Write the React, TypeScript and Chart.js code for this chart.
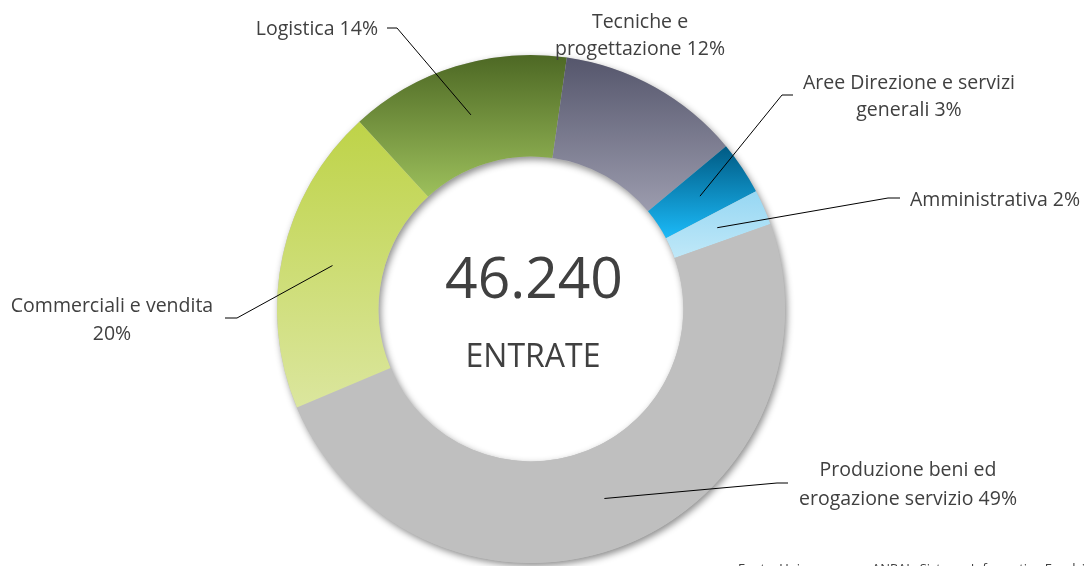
import React, { useEffect, useRef } from "react";
import { Chart, registerables } from "chart.js";

Chart.register(...registerables);

const categories: string[] = [
  "Logistica",
  "Tecniche e progettazione",
  "Aree Direzione e servizi generali",
  "Amministrativa",
  "Produzione beni ed erogazione servizio",
  "Commerciali e vendita",
];
const values: number[] = [6500, 5400, 1570, 1040, 22700, 9030];
const percentLabels: string[] = ["14%", "12%", "3%", "2%", "49%", "20%"];
const labelLines: string[][] = [
  ["Logistica 14%"],
  ["Tecniche e", "progettazione 12%"],
  ["Aree Direzione e servizi", "generali 3%"],
  ["Amministrativa 2%"],
  ["Produzione beni ed", "erogazione servizio 49%"],
  ["Commerciali e vendita", "20%"],
];
const totalLabel = "46.240";
const centerLabel = "ENTRATE";
const sourceLabel = "Fonte: Unioncamere - ANPAL, Sistema Informativo Excelsior";

const gradientStops: string[][] = [
  ["#4d6824", "#9dc05c"],
  ["#55566c", "#9c9cae"],
  ["#005a83", "#1bbaf8"],
  ["#97d7f3", "#bfe8f8"],
  ["#bfbfbf", "#bfbfbf"],
  ["#bed348", "#dbe69e"],
];

const ROTATION = -42.5;
const CUTOUT = 0.6;
const FONT = "'Open Sans', Lato, sans-serif";
const TEXT_COLOR = "#404040";

type Layout = { x: number; ys: number[]; align: CanvasTextAlign; line?: number[][] };
const layouts: Layout[] = [
  { x: 378, ys: [29], align: "right", line: [[387, 28], [397, 28]] },
  { x: 640, ys: [22, 49], align: "center" },
  { x: 909, ys: [83, 110], align: "center", line: [[793, 95], [782, 95]] },
  { x: 910, ys: [200], align: "left", line: [[900, 198], [888, 198]] },
  { x: 908, ys: [470, 499], align: "center", line: [[788, 483], [777, 483]] },
  { x: 112, ys: [306, 334], align: "center", line: [[225, 318], [237, 318]] },
];

function segmentGradient(ctx: any) {
  const chart = ctx.chart;
  const area = chart.chartArea;
  const i = ctx.dataIndex;
  const stops = gradientStops[i];
  if (!area) return stops[0];
  const cx = (area.left + area.right) / 2;
  const cy = (area.top + area.bottom) / 2;
  const R = Math.min(area.right - area.left, area.bottom - area.top) / 2;
  const r = R * CUTOUT;
  const total = values.reduce((a, b) => a + b, 0);
  let before = 0;
  for (let k = 0; k < i; k++) before += values[k];
  const a0 = ((ROTATION - 90) * Math.PI) / 180 + (before / total) * Math.PI * 2;
  const a1 = a0 + (values[i] / total) * Math.PI * 2;
  let ymin = Infinity;
  let ymax = -Infinity;
  const n = 60;
  for (let s = 0; s <= n; s++) {
    const a = a0 + ((a1 - a0) * s) / n;
    for (const rad of [R, r]) {
      const y = cy + rad * Math.sin(a);
      ymin = Math.min(ymin, y);
      ymax = Math.max(ymax, y);
    }
  }
  const g = chart.ctx.createLinearGradient(0, ymin, 0, ymax);
  g.addColorStop(0, stops[0]);
  g.addColorStop(1, stops[1]);
  return g;
}

const shadowPlugin = {
  id: "ringShadow",
  beforeDatasetsDraw(chart: any) {
    const meta = chart.getDatasetMeta(0);
    const arc = meta.data[0];
    if (!arc) return;
    const { x, y, outerRadius, innerRadius } = arc;
    const c = chart.ctx;
    c.save();
    c.shadowColor = "rgba(0,0,0,0.45)";
    c.shadowBlur = 7;
    c.shadowOffsetX = 2;
    c.shadowOffsetY = 3;
    c.fillStyle = "#bfbfbf";
    c.beginPath();
    c.arc(x, y, outerRadius, 0, Math.PI * 2, false);
    c.arc(x, y, innerRadius, 0, Math.PI * 2, true);
    c.closePath();
    c.fill("evenodd");
    c.restore();
  },
};

const labelPlugin = {
  id: "outerLabels",
  afterDatasetsDraw(chart: any) {
    const meta = chart.getDatasetMeta(0);
    const c = chart.ctx;
    c.save();
    meta.data.forEach((arc: any, i: number) => {
      const lay = layouts[i];
      const mid = (arc.startAngle + arc.endAngle) / 2;
      const rr = (arc.innerRadius + arc.outerRadius) / 2;
      const ax = arc.x + rr * Math.cos(mid);
      const ay = arc.y + rr * Math.sin(mid);
      if (lay.line) {
        c.strokeStyle = "#000000";
        c.lineWidth = 1;
        c.beginPath();
        c.moveTo(lay.line[0][0], lay.line[0][1]);
        for (let k = 1; k < lay.line.length; k++) c.lineTo(lay.line[k][0], lay.line[k][1]);
        c.lineTo(ax, ay);
        c.stroke();
      }
      c.fillStyle = TEXT_COLOR;
      c.font = `19.5px ${FONT}`;
      c.textAlign = lay.align;
      c.textBaseline = "middle";
      labelLines[i].forEach((t, k) => c.fillText(t, lay.x, lay.ys[k]));
    });
    const a0 = meta.data[0];
    if (a0) {
      c.textAlign = "center";
      c.textBaseline = "alphabetic";
      c.fillStyle = TEXT_COLOR;
      c.font = `57px ${FONT}`;
      c.fillText(totalLabel, a0.x + 3, 298);
      c.font = `32px ${FONT}`;
      c.fillText(centerLabel, a0.x + 2, 367);
    }
    c.textAlign = "left";
    c.textBaseline = "top";
    c.font = `13px ${FONT}`;
    c.fillStyle = TEXT_COLOR;
    c.fillText(sourceLabel, 738, 563);
    c.restore();
  },
};

export default function App() {
  const ref = useRef<HTMLCanvasElement | null>(null);
  useEffect(() => {
    if (!ref.current) return;
    const chart = new Chart(ref.current, {
      type: "doughnut",
      data: {
        labels: categories.map((c, i) => `${c} ${percentLabels[i]}`),
        datasets: [
          {
            data: values,
            backgroundColor: segmentGradient as any,
            borderWidth: 0,
          },
        ],
      },
      options: {
        responsive: false,
        maintainAspectRatio: false,
        animation: false,
        rotation: ROTATION,
        cutout: `${CUTOUT * 100}%`,
        layout: { padding: { left: 277, right: 301, top: 55, bottom: 3 } },
        plugins: {
          legend: { display: false },
          tooltip: { enabled: false },
        },
      },
      plugins: [shadowPlugin, labelPlugin],
    });
    return () => chart.destroy();
  }, []);
  return (
    <div
      style={{
        position: "absolute",
        left: 0,
        top: 0,
        width: 1086,
        height: 566,
        overflow: "hidden",
        background: "#ffffff",
      }}
    >
      <canvas ref={ref} width={1086} height={566} style={{ width: 1086, height: 566, display: "block" }} />
    </div>
  );
}
